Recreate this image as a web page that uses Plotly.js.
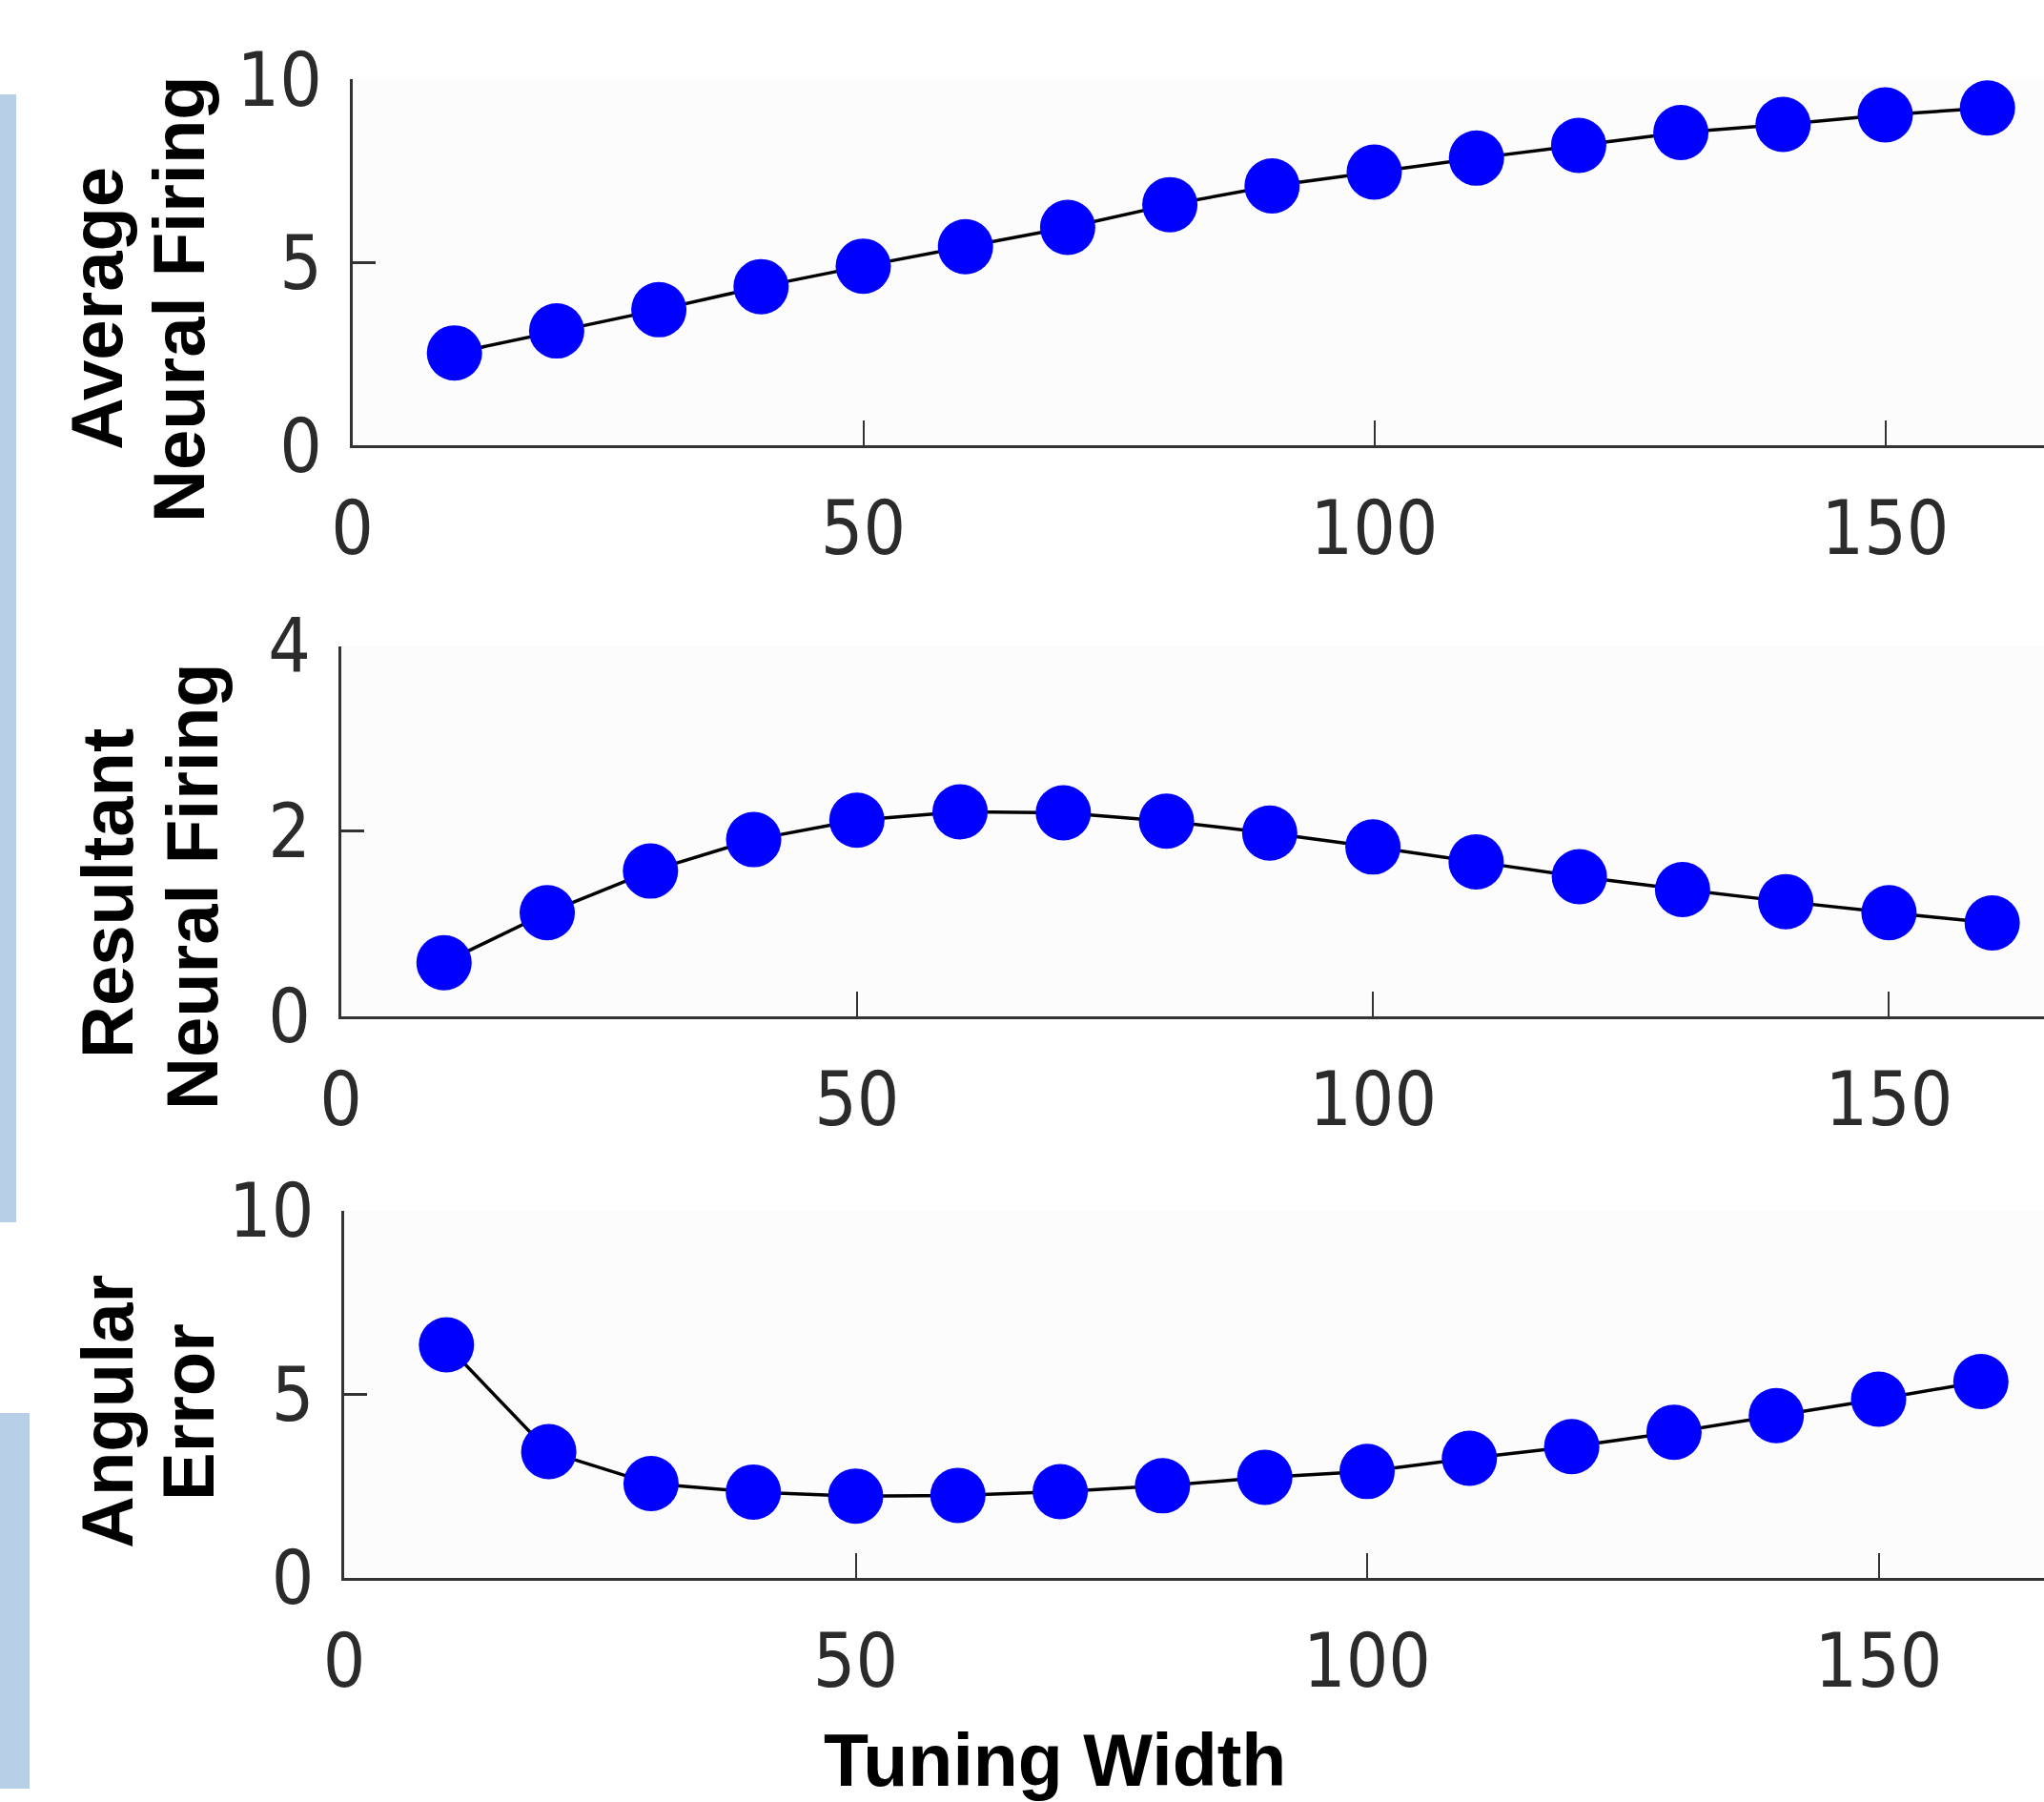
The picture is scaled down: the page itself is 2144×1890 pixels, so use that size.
<!DOCTYPE html>
<html>
<head>
<meta charset="utf-8">
<script src="https://cdn.plot.ly/plotly-3.0.1.min.js"></script>
<style>
  html, body { margin: 0; padding: 0; background: #ffffff; }
  #chart { width: 2144px; height: 1890px; }
</style>
</head>
<body>
<div id="chart"></div>
<script>
// ---- data ----
const tuningWidth = [10, 20, 30, 40, 50, 60, 70, 80, 90, 100, 110, 120, 130, 140, 150, 160];
const averageFiring = [2.53, 3.13, 3.71, 4.34, 4.90, 5.43, 5.96, 6.58, 7.09, 7.47, 7.85, 8.20, 8.55, 8.77, 9.03, 9.22];
const resultantFiring = [0.58, 1.12, 1.57, 1.91, 2.12, 2.21, 2.20, 2.11, 1.98, 1.83, 1.67, 1.51, 1.37, 1.24, 1.12, 1.01];
const angularError = [6.35, 3.44, 2.57, 2.34, 2.23, 2.25, 2.35, 2.51, 2.74, 2.90, 3.26, 3.58, 3.97, 4.42, 4.87, 5.35];

const xTickVals = [0, 50, 100, 150];
const xTickText = ['0', '50', '100', '150'];
const yTicksAverage = [0, 5, 10];
const yTicksResultant = [0, 2, 4];
const yTicksAngular = [0, 5, 10];

const yTitleAverage = ['Average', 'Neural Firing'];
const yTitleResultant = ['Resultant', 'Neural Firing'];
const yTitleAngular = ['Angular', 'Error'];
const xTitle = 'Tuning Width';

// ---- styling / geometry ----
const W = 2144, H = 1890;
const px = v => v / W;
const py = v => (H - v) / H;

const tickFont = { family: 'DejaVu Sans Condensed, DejaVu Sans, sans-serif', size: 78, color: '#2b2b2b' };
const titleFont = { family: 'Liberation Sans, Arial, sans-serif', size: 76, color: '#000000', weight: 700 };

function trace(y, xa, ya) {
  return {
    x: tuningWidth, y: y, xaxis: xa, yaxis: ya,
    type: 'scatter', mode: 'lines+markers',
    line: { color: '#000000', width: 3.5 },
    marker: { color: '#0000ff', size: 58, line: { width: 0 } },
    cliponaxis: false, showlegend: false, hoverinfo: 'skip'
  };
}

function xAxis(domainLeft, rangeMax, anchor) {
  return {
    domain: [domainLeft, 1], range: [0, rangeMax], anchor: anchor,
    showline: true, linecolor: '#333333', linewidth: 3,
    ticks: 'inside', ticklen: 26, tickwidth: 2, tickcolor: '#333333',
    tickmode: 'array', tickvals: xTickVals, ticktext: xTickText,
    tickfont: tickFont, ticklabelstandoff: 17,
    showgrid: false, zeroline: false, fixedrange: true
  };
}
function yAxis(domain, range, tickvals, anchor) {
  return {
    domain: domain, range: range, anchor: anchor,
    showline: true, linecolor: '#333333', linewidth: 3,
    ticks: 'inside', ticklen: 24, tickwidth: 3, tickcolor: '#333333',
    tickmode: 'array', tickvals: tickvals, ticktext: tickvals.map(String),
    tickfont: tickFont, ticklabelstandoff: 13,
    showgrid: false, zeroline: false, fixedrange: true
  };
}

function titleAnn(text, cx, cy) {
  return { text: text, xref: 'paper', yref: 'paper', x: px(cx), y: py(cy),
    xanchor: 'center', yanchor: 'middle', textangle: -90, showarrow: false, font: titleFont };
}

const data = [
  trace(averageFiring, 'x', 'y'),
  trace(resultantFiring, 'x2', 'y2'),
  trace(angularError, 'x3', 'y3')
];

const layout = {
  width: W, height: H,
  margin: { l: 0, r: 0, t: 0, b: 0, pad: 0 },
  paper_bgcolor: '#ffffff',
  plot_bgcolor: '#fcfcfc',
  showlegend: false,
  xaxis: xAxis(px(369.5), (W - 369.5) / 10.72, 'y'),
  yaxis: yAxis([py(467.3), py(83.3)], [0, 10], yTicksAverage, 'x'),
  xaxis2: xAxis(px(357.5), (W - 357.5) / 10.826, 'y2'),
  yaxis2: yAxis([py(1066), py(677.7)], [0, 4], yTicksResultant, 'x2'),
  xaxis3: xAxis(px(361), (W - 361) / 10.73, 'y3'),
  yaxis3: yAxis([py(1655), py(1270)], [0, 10], yTicksAngular, 'x3'),
  annotations: [
    titleAnn(yTitleAverage[0], 102, 324),
    titleAnn(yTitleAverage[1], 187, 314),
    titleAnn(yTitleResultant[0], 112, 937),
    titleAnn(yTitleResultant[1], 201, 930),
    titleAnn(yTitleAngular[0], 112, 1481),
    titleAnn(yTitleAngular[1], 197, 1481),
    { text: xTitle, xref: 'paper', yref: 'paper', x: px(1106), y: py(1846),
      xanchor: 'center', yanchor: 'middle', showarrow: false,
      font: { family: 'Liberation Sans, Arial, sans-serif', size: 77, color: '#000000', weight: 700 } }
  ],
  shapes: [
    { type: 'rect', xref: 'paper', yref: 'paper', x0: 0, x1: px(17), y0: py(1282), y1: py(99),
      fillcolor: '#b8cfe8', line: { width: 0 }, layer: 'below' },
    { type: 'rect', xref: 'paper', yref: 'paper', x0: 0, x1: px(31), y0: py(1876), y1: py(1482),
      fillcolor: '#b8cfe8', line: { width: 0 }, layer: 'below' }
  ]
};

Plotly.newPlot('chart', data, layout, { displayModeBar: false, staticPlot: true });
</script>
</body>
</html>
